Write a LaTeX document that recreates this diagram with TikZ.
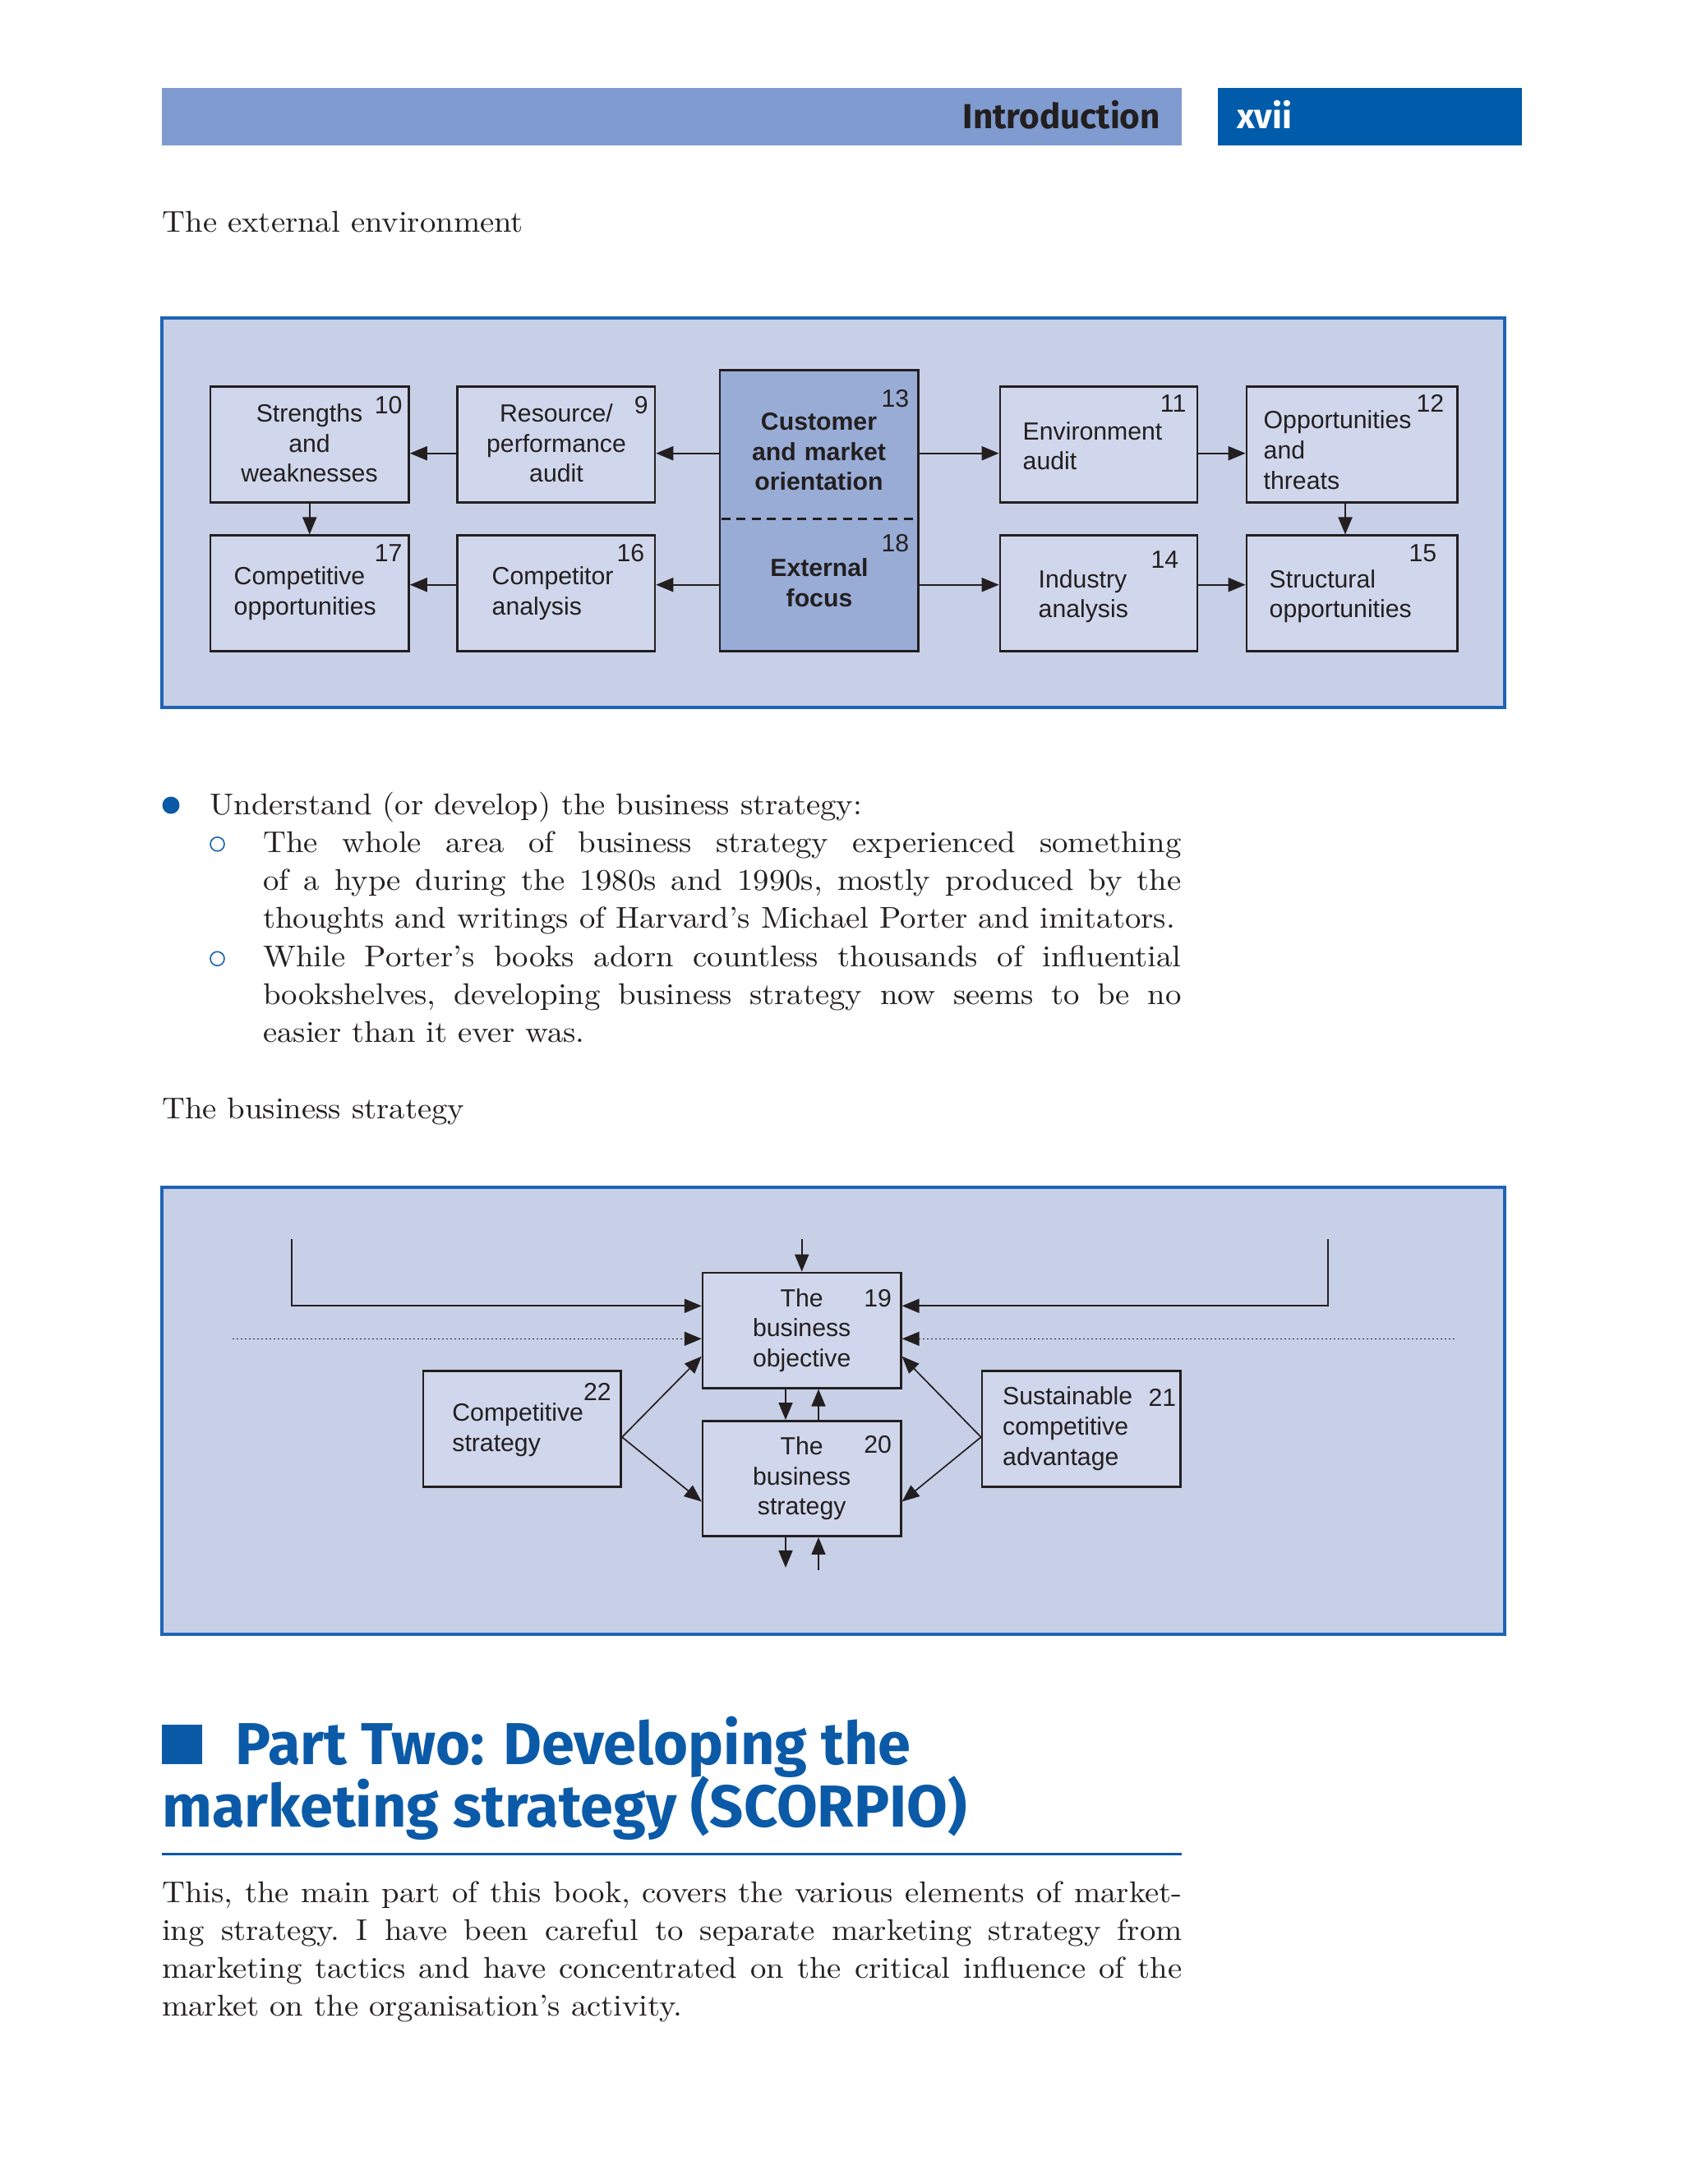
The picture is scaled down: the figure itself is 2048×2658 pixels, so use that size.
\documentclass[tikz,border=0pt]{standalone}
\usepackage{fontspec}
\setmainfont{Latin Modern Roman}[FakeStretch=1.06]
\newfontfamily\boxfont{Liberation Sans}
\newfontfamily\hdfont{Fira Sans}
\usetikzlibrary{arrows.meta}
\definecolor{hdrlight}{HTML}{7F9BCF}
\definecolor{hdrdark}{HTML}{005BAA}
\definecolor{framebg}{HTML}{C8D0E7}
\definecolor{frameline}{HTML}{1F64B4}
\definecolor{boxbg}{HTML}{D0D7EC}
\definecolor{centerbg}{HTML}{98ACD6}
\definecolor{inkblue}{HTML}{0B5AA8}
\definecolor{ink}{HTML}{231F20}
\tikzset{
  frame/.style={draw=frameline, line width=0.35mm, fill=framebg},
  box/.style={draw=ink, line width=0.25mm, fill=boxbg, inner sep=0pt, minimum width=24.1mm, minimum height=14.1mm},
  cbox/.style={box, fill=centerbg},
  arr/.style={draw=ink, line width=0.2mm, -{Triangle[length=2.1mm,width=1.7mm]}},
  thinarr/.style={arr, line width=0.17mm},
  dotline/.style={arr, line width=0.15mm, dash pattern=on 0.2mm off 0.3mm},
  btxt/.style={font=\boxfont\fontsize{8.6pt}{10.44pt}\selectfont, text=ink, inner sep=0pt},
  ctxt/.style={btxt, text width=24mm, align=center, anchor=base},
  ltxt/.style={btxt, text width=22mm, align=left, anchor=base west},
  num/.style={btxt, anchor=base east},
  body/.style={font=\fontsize{10.4pt}{13.1pt}\selectfont\frenchspacing, text=ink, inner sep=0pt, anchor=base west},
  hd/.style={font=\hdfont\bfseries\fontsize{20.5pt}{24pt}\selectfont, text=inkblue, inner sep=0pt, anchor=base west},
}
\begin{document}
\begin{tikzpicture}[x=0.1mm,y=-0.1mm]
\useasboundingbox[fill=white] (0,0) rectangle (2048,2658);

% ---------- header ----------
\fill[hdrlight] (197,107.3) rectangle (1438,176.7);
\fill[hdrdark] (1481.5,107.3) rectangle (1851.6,176.7);
\node[font=\hdfont\bfseries\fontsize{12pt}{13pt}\selectfont, text=ink, inner sep=0pt, anchor=base east] (intro) at (1412.6,156.7) {Introduction};
\node[font=\hdfont\bfseries\fontsize{12pt}{13pt}\selectfont, text=white, inner sep=0pt, anchor=base west] (pageno) at (1504.4,156.7) {xvii};

\node[body] (cap1) at (197,282.7) {The external environment};

% ---------- diagram 1 ----------
\draw[frame] (197,387) rectangle (1831,861);

\node[box, minimum width=24.15mm] (b10) at (376.75,541.2) {};
\node[box, minimum width=24.05mm] (b9) at (676.75,541.2) {};
\node[box, minimum width=24.15mm, minimum height=14.06mm] (b17) at (376.75,722) {};
\node[box, minimum width=24.05mm, minimum height=14.06mm] (b16) at (676.75,722) {};
\node[cbox, minimum width=24.17mm, minimum height=34.16mm] (bc) at (996.65,621.5) {};
\node[box, minimum width=24mm] (b11) at (1336.9,541.2) {};
\node[box, minimum width=25.68mm] (b12) at (1645.3,541.2) {};
\node[box, minimum width=24mm, minimum height=14.06mm] (b14) at (1336.9,722) {};
\node[box, minimum width=25.68mm, minimum height=14.06mm] (b15) at (1645.3,722) {};

\coordinate (dsh) at (0,631.7);
\draw[ink, line width=0.25mm, dash pattern=on 1.1mm off 0.75mm] ([xshift=0.3mm]bc.west |- dsh) -- ([xshift=-0.6mm]bc.east |- dsh);

\node[ctxt] (t10) at (376.5,513.3) {Strengths\\and\\weaknesses};
\node[num] (n10) at (490.2,503.3) {10};
\node[ctxt] (t9) at (677,513.3) {Resource/\\performance\\audit};
\node[num] (n9) at (789.4,503.3) {9};
\node[ltxt] (t17) at (284,711.7) {Competitive\\opportunities};
\node[num] (n17) at (490.2,683.3) {17};
\node[ltxt] (t16) at (598,711.7) {Competitor\\analysis};
\node[num] (n16) at (784.9,683.3) {16};
\node[ctxt, font=\boxfont\bfseries\fontsize{8.6pt}{10.44pt}\selectfont] (t13) at (996.5,523.3) {Customer\\and market\\orientation};
\node[num] (n13) at (1106.9,495) {13};
\node[ctxt, font=\boxfont\bfseries\fontsize{8.6pt}{10.44pt}\selectfont] (t18) at (997,701.7) {External\\focus};
\node[num] (n18) at (1106.9,671.7) {18};
\node[ltxt] (t11) at (1244,535) {Environment\\audit};
\node[num] (n11) at (1444,501.7) {11};
\node[ltxt] (t12) at (1537,521.7) {Opportunities\\and\\threats};
\node[num] (n12) at (1758,501.7) {12};
\node[ltxt] (t14) at (1263,715) {Industry\\analysis};
\node[num] (n14) at (1435,691.7) {14};
\node[ltxt] (t15) at (1544,715) {Structural\\opportunities};
\node[num] (n15) at (1749,683.3) {15};

\coordinate (r1) at (0,551.7);
\coordinate (r2) at (0,711.7);
\coordinate (c3) at (1637,0);
\draw[arr] (bc.west |- r1) -- (b9.east |- r1);
\draw[arr] (b9.west |- r1) -- (b10.east |- r1);
\draw[arr] (bc.west |- r2) -- (b16.east |- r2);
\draw[arr] (b16.west |- r2) -- (b17.east |- r2);
\draw[arr] (b10.south) -- (b17.north);
\draw[arr] (bc.east |- r1) -- (b11.west |- r1);
\draw[arr] (b11.east |- r1) -- (b12.west |- r1);
\draw[arr] (bc.east |- r2) -- (b14.west |- r2);
\draw[arr] (b14.east |- r2) -- (b15.west |- r2);
\draw[arr] (b12.south -| c3) -- (b15.north -| c3);

% ---------- bullet list ----------
\fill[inkblue] (208,980) circle (1.05mm);
\node[body] (l1) at (254.7,991.7) {Understand (or develop) the business strategy:};
\draw[inkblue, line width=0.15mm] (264.5,1027.3) circle (0.85mm);
\node[body, text width=111.75mm, align=justify] (l2) at (319.5,1037.3) {The whole area of business strategy experienced something\linebreak of a hype during the 1980s and 1990s, mostly produced by the\linebreak thoughts and writings of Harvard’s Michael Porter and imitators.};
\draw[inkblue, line width=0.15mm] (264.5,1166.7) circle (0.85mm);
\node[body, text width=111.75mm, align=justify] (l3) at (319.5,1176) {While Porter’s books adorn countless thousands of influential\linebreak bookshelves, developing business strategy now seems to be no\linebreak easier than it ever was.};

\node[body] (cap2) at (196.5,1361.7) {The business strategy};

% ---------- diagram 2 ----------
\draw[frame] (197,1445) rectangle (1831,1989);

\node[box, minimum width=24.14mm, minimum height=14.04mm] (b19) at (975.7,1619.1) {};
\node[box, minimum width=24.14mm, minimum height=14.03mm] (b20) at (975.7,1799.5) {};
\node[box, minimum width=24.07mm] (b22) at (635.35,1739.1) {};
\node[box, minimum width=24.13mm] (b21) at (1315.65,1739.1) {};

\node[ctxt] (t19) at (975.7,1590) {The\\business\\objective};
\node[num] (n19) at (1085.6,1590.7) {19};
\node[ctxt] (t20) at (975.7,1770.4) {The\\business\\strategy};
\node[num] (n20) at (1085.6,1768.6) {20};
\node[ltxt] (t22) at (549.7,1729.3) {Competitive\\strategy};
\node[num] (n22) at (744.5,1704.3) {22};
\node[ltxt] (t21) at (1219.5,1709.6) {Sustainable\\competitive\\advantage};
\node[num] (n21) at (1431.9,1711.4) {21};

\coordinate (lbtop) at (355,1507.9);
\coordinate (rbtop) at (1615.6,1507.9);
\coordinate (tin) at (975.7,1507.9);
\coordinate (rb) at (0,1589.3);
\coordinate (dl) at (282.6,1629.3);
\coordinate (dr) at (1770,1629.3);
\coordinate (s0) at (0,1749);
\coordinate (s1) at (0,1650.7);
\coordinate (s2) at (0,1827.5);
\coordinate (xd) at (956,0);
\coordinate (xu) at (996,0);
\coordinate (bd) at (956,1907.9);
\coordinate (bu) at (996,1910.7);

\draw[arr] (lbtop) |- (b19.west |- rb);
\draw[arr] (rbtop) |- (b19.east |- rb);
\draw[dotline] (dl) -- (b19.west |- dl);
\draw[dotline] (dr) -- (b19.east |- dr);
\draw[arr, line width=0.17mm] (tin) -- (b19.north);
\draw[arr, line width=0.17mm] (b19.south -| xd) -- (b20.north -| xd);
\draw[arr, line width=0.17mm] (b20.north -| xu) -- (b19.south -| xu);
\draw[arr, line width=0.17mm] (b20.south -| xd) -- (bd);
\draw[arr, line width=0.17mm] (bu) -- (b20.south -| xu);
\draw[thinarr] (b22.east |- s0) -- (b19.west |- s1);
\draw[thinarr] (b22.east |- s0) -- (b20.west |- s2);
\draw[thinarr] (b21.west |- s0) -- (b19.east |- s1);
\draw[thinarr] (b21.west |- s0) -- (b20.east |- s2);

% ---------- part heading ----------
\fill[inkblue] (196.5,2099) rectangle (245.5,2147);
\node[hd] (h1) at (286,2147.3) {Part Two: Developing the};
\node[hd] (h2) at (196.5,2223.3) {marketing strategy (SCORPIO)};
\draw[inkblue, line width=0.33mm] (196.5,2256.7) -- (1438,2256.7);

\node[body, text width=124.15mm, align=justify] (para) at (196.5,2315) {This, the main part of this book, covers the various elements of market-\linebreak ing strategy. I have been careful to separate marketing strategy from\linebreak marketing tactics and have concentrated on the critical influence of the\linebreak market on the organisation’s activity.};
\end{tikzpicture}
\end{document}
